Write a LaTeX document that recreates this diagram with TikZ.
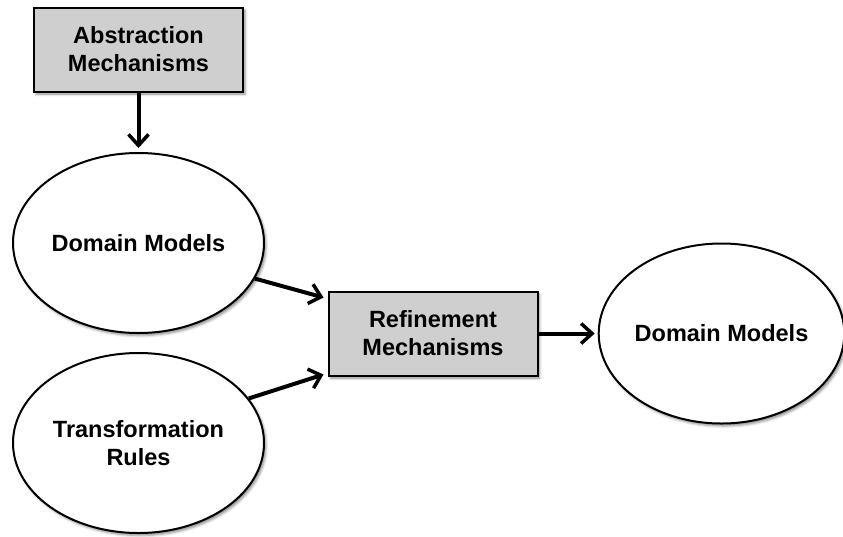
\documentclass[tikz,border=0pt]{standalone}
\usepackage{fontspec}
\setmainfont{Liberation Sans}
\usepackage{tikz}
\usepackage{xcolor}
\usetikzlibrary{shapes.geometric,arrows.meta,shadows.blur}
\definecolor{boxgray}{RGB}{207,207,207}
\tikzstyle{mechanism} = [rectangle,
                         minimum width=209pt,
                         minimum height=84pt,
                         text centered,
                         align=center,
                         line width=2pt,
                         draw=black,
                         fill=boxgray,
                         blur shadow={shadow xshift=2pt,shadow yshift=-2.5pt,shadow blur radius=2.5pt,shadow opacity=45}]
\tikzstyle{model} = [ellipse,
                     minimum width=251pt,
                     minimum height=180pt,
                     inner sep=0pt,
                     text centered,
                     align=center,
                     line width=2pt,
                     draw=black,
                     fill=white,
                     blur shadow={shadow xshift=2pt,shadow yshift=-2.5pt,shadow blur radius=2.5pt,shadow opacity=45}]
\tikzstyle{arrow} = [line width=4pt,
                     -{Straight Barb[length=11pt,width=20pt,line width=3.5pt]}]

\begin{document}
\begin{tikzpicture}[node distance=200pt,
                    font=\fontsize{23.5}{28}\selectfont\bfseries]
    \useasboundingbox (0,0) rectangle (843pt,-536pt);

    \node (absmech) [mechanism] at (138.5pt,-49.5pt)                 {Abstraction\\Mechanisms};
    \node (dommod)  [model,     below of=absmech, yshift=6.5pt]      {Domain Models};
    \node (trules)  [model,     below of=dommod]                     {Transformation\\Rules};
    \node (refmech) [mechanism, right of=dommod, xshift=94.5pt, yshift=-90.5pt] {Refinement\\Mechanisms};
    \node (dommod2) [model,     right of=refmech, xshift=88.5pt, minimum width=241pt] {Domain Models};

    \draw [arrow, shorten >=4pt] (absmech) -- (dommod);
    \draw [arrow] (dommod.-17) -- ([xshift=-4pt,yshift=-7pt]refmech.north west);
    \draw [arrow] (trules.22)  -- ([xshift=-4pt,yshift=2pt]refmech.south west);
    \draw [arrow, shorten >=3pt] (refmech) -- (dommod2);

  \end{tikzpicture}
\end{document}
